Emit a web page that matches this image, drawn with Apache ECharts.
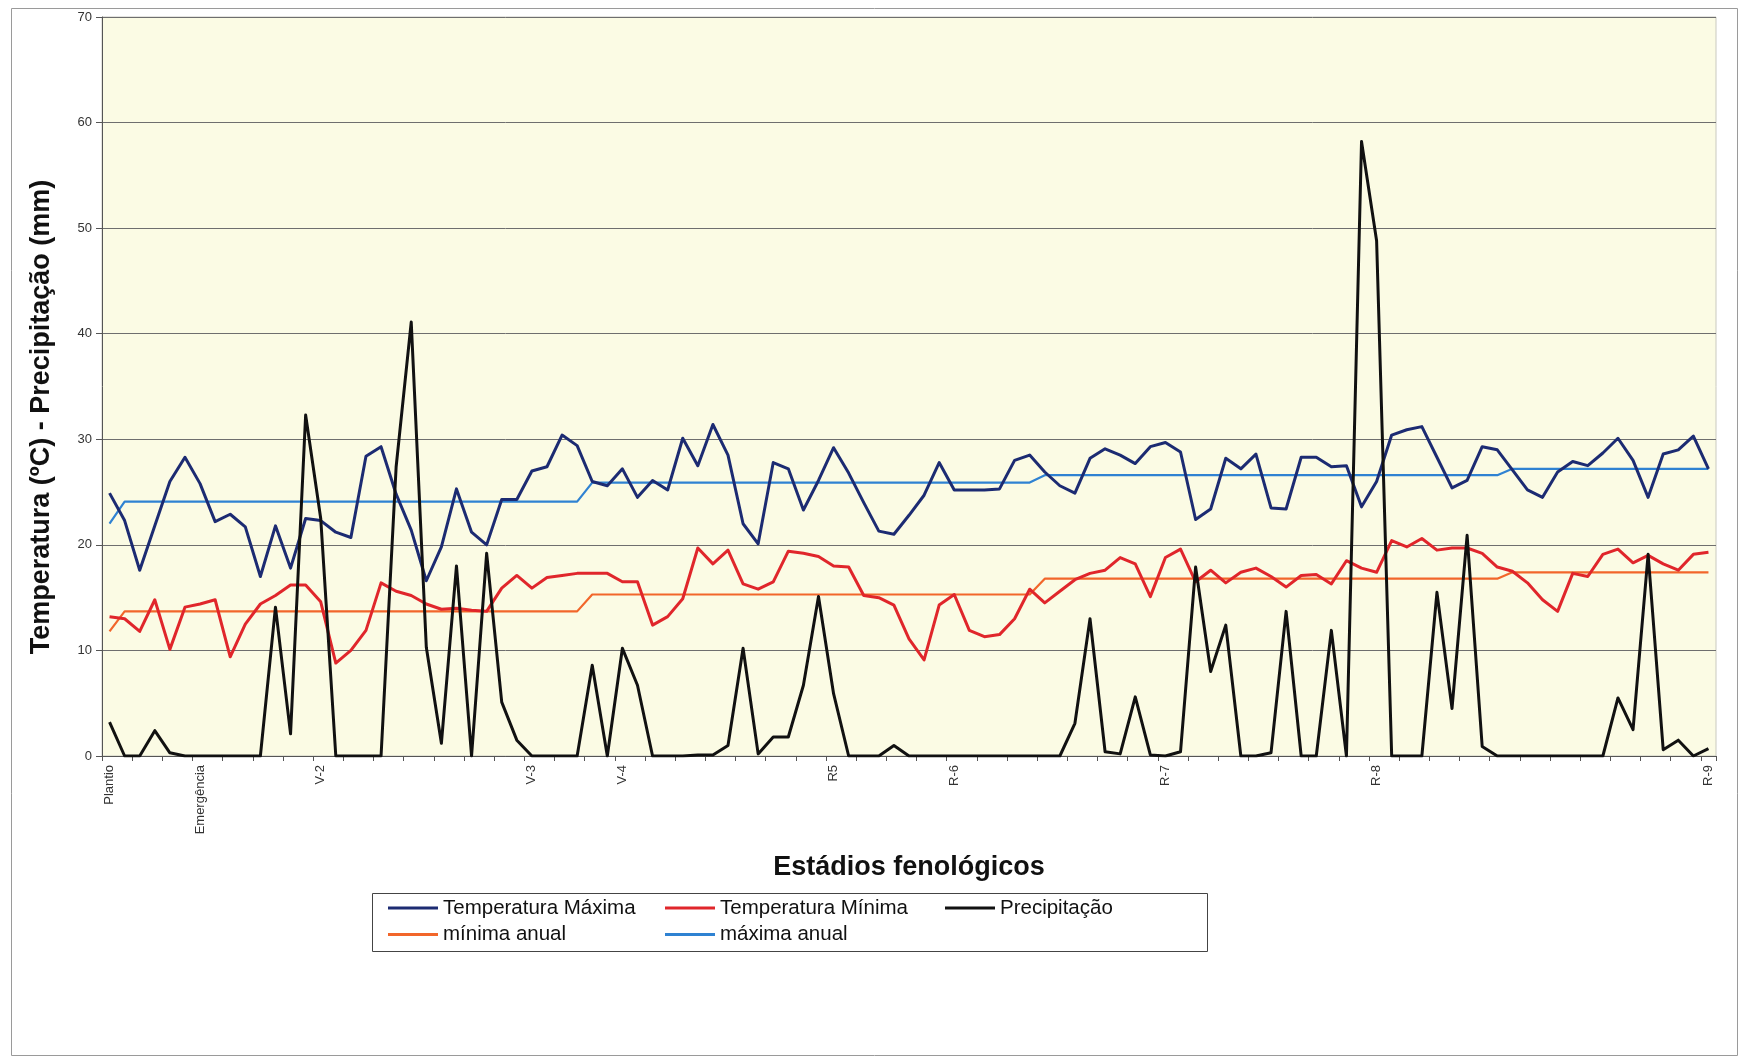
<!DOCTYPE html>
<html>
<head>
<meta charset="utf-8">
<script src="https://cdn.jsdelivr.net/npm/echarts@6.0.0/dist/echarts.min.js"></script>
<style>
html,body{margin:0;padding:0;background:#fff;}
#chart{width:1738px;height:1057px;}
</style>
</head>
<body>
<div id="chart"></div>
<script>
var categories = [
'Plantio','','','','','','Emergência','','','','','','','','V-2','','','','','','',
'','','','','','','','V-3','','','','','','V-4','','','','','','','','','','','','','',
'R5','','','','','','','','R-6','','','','','','','','','','','','','','R-7','','','','','','','','','','','','','','R-8',
'','','','','','','','','','','','','','','','','','','','','','R-9'
];

var tempMax = [24.9,22.3,17.6,21.8,26.0,28.3,25.8,22.2,22.9,21.7,17.0,21.8,17.8,22.5,22.3,21.2,20.7,28.4,29.3,24.8,
21.4,16.6,19.8,25.3,21.2,20.0,24.3,24.3,27.0,27.4,30.4,29.4,26.0,25.6,27.2,24.5,26.1,25.2,30.1,27.5,
31.4,28.5,22.0,20.1,27.8,27.2,23.3,26.1,29.2,26.8,24.0,21.3,21.0,22.8,24.7,27.8,25.2,25.2,25.2,25.3,
28.0,28.5,26.9,25.6,24.9,28.2,29.1,28.5,27.7,29.3,29.7,28.8,22.4,23.4,28.2,27.2,28.6,23.5,23.4,28.3,
28.3,27.4,27.5,23.6,26.0,30.4,30.9,31.2,28.3,25.4,26.1,29.3,29.0,27.1,25.2,24.5,26.9,27.9,27.5,28.7,
30.1,28.0,24.5,28.6,29.0,30.3,27.2];

var tempMin = [13.2,13.0,11.8,14.8,10.1,14.1,14.4,14.8,9.4,12.5,14.4,15.2,16.2,16.2,14.6,8.8,10.0,11.9,16.4,15.6,
15.2,14.4,13.9,14.0,13.8,13.7,15.9,17.1,15.9,16.9,17.1,17.3,17.3,17.3,16.5,16.5,12.4,13.2,14.9,19.7,
18.2,19.5,16.3,15.8,16.5,19.4,19.2,18.9,18.0,17.9,15.2,15.0,14.3,11.1,9.1,14.3,15.3,11.9,11.3,11.5,
13.0,15.8,14.5,15.6,16.7,17.3,17.6,18.8,18.2,15.1,18.8,19.6,16.5,17.6,16.4,17.4,17.8,17.0,16.0,17.1,
17.2,16.3,18.5,17.8,17.4,20.4,19.8,20.6,19.5,19.7,19.7,19.2,17.9,17.5,16.4,14.8,13.7,17.3,17.0,19.1,
19.6,18.3,19.0,18.2,17.6,19.1,19.3];

var precip = [3.2,0,0,2.4,0.3,0,0,0,0,0,0,14.1,2.1,32.3,22.5,0,0,0,0,27.4,
41.1,10.3,1.2,18.0,0,19.2,5.1,1.5,0,0,0,0,8.6,0,10.2,6.7,0,0,0,0.1,
0.1,1.0,10.2,0.2,1.8,1.8,6.7,15.1,5.9,0,0,0,1.0,0,0,0,0,0,0,0,
0,0,0,0,3.1,13.0,0.4,0.2,5.6,0.1,0,0.4,17.9,8.0,12.4,0,0,0.3,13.7,0,
0,11.9,0,58.2,48.8,0,0,0,15.5,4.5,20.9,0.9,0,0,0,0,0,0,0,0,
5.5,2.5,19.1,0.6,1.5,0,0.7];

var minAnual = [11.8,13.7,13.7,13.7,13.7,13.7,13.7,13.7,13.7,13.7,13.7,13.7,13.7,13.7,13.7,13.7,13.7,13.7,13.7,13.7,
13.7,13.7,13.7,13.7,13.7,13.7,13.7,13.7,13.7,13.7,13.7,13.7,15.3,15.3,15.3,15.3,15.3,15.3,15.3,15.3,
15.3,15.3,15.3,15.3,15.3,15.3,15.3,15.3,15.3,15.3,15.3,15.3,15.3,15.3,15.3,15.3,15.3,15.3,15.3,15.3,
15.3,15.3,16.8,16.8,16.8,16.8,16.8,16.8,16.8,16.8,16.8,16.8,16.8,16.8,16.8,16.8,16.8,16.8,16.8,16.8,
16.8,16.8,16.8,16.8,16.8,16.8,16.8,16.8,16.8,16.8,16.8,16.8,16.8,17.4,17.4,17.4,17.4,17.4,17.4,17.4,
17.4,17.4,17.4,17.4,17.4,17.4,17.4];

var maxAnual = [22.0,24.1,24.1,24.1,24.1,24.1,24.1,24.1,24.1,24.1,24.1,24.1,24.1,24.1,24.1,24.1,24.1,24.1,24.1,24.1,
24.1,24.1,24.1,24.1,24.1,24.1,24.1,24.1,24.1,24.1,24.1,24.1,25.9,25.9,25.9,25.9,25.9,25.9,25.9,25.9,
25.9,25.9,25.9,25.9,25.9,25.9,25.9,25.9,25.9,25.9,25.9,25.9,25.9,25.9,25.9,25.9,25.9,25.9,25.9,25.9,
25.9,25.9,26.6,26.6,26.6,26.6,26.6,26.6,26.6,26.6,26.6,26.6,26.6,26.6,26.6,26.6,26.6,26.6,26.6,26.6,
26.6,26.6,26.6,26.6,26.6,26.6,26.6,26.6,26.6,26.6,26.6,26.6,26.6,27.2,27.2,27.2,27.2,27.2,27.2,27.2,
27.2,27.2,27.2,27.2,27.2,27.2,27.2];

var yTicks = [0,10,20,30,40,50,60,70];

var FONT = "'Liberation Sans', Arial, sans-serif";
var chart = echarts.init(document.getElementById('chart'), null, {renderer:'canvas'});

function lineSeries(name, data, color, width, z) {
  return {
    name: name, type: 'line', data: data, symbol: 'none', z: z,
    lineStyle: {color: color, width: width, join: 'round'},
    itemStyle: {color: color},
    emphasis: {disabled: true}
  };
}

var legendCommon = {
  orient: 'vertical', itemWidth: 50, itemHeight: 3, itemGap: 4.6, icon: 'rect',
  textStyle: {fontFamily: FONT, fontSize: 20.5, color: '#111', lineHeight: 22},
  selectedMode: false, padding: 0
};

chart.setOption({
  animation: false,
  backgroundColor: '#ffffff',
  grid: {left: 102, right: 22, top: 17, bottom: 301, show: true,
         backgroundColor: '#fbfbe4', borderColor: '#c9c9c0', borderWidth: 1},
  xAxis: {
    type: 'category', data: categories, boundaryGap: true,
    axisLine: {show: true, lineStyle: {color: '#555', width: 1}},
    axisTick: {show: true, interval: 1, length: 5, lineStyle: {color: '#555'}},
    axisLabel: {interval: 0, rotate: 90, fontSize: 13, fontFamily: FONT, color: '#333', margin: 9},
    name: 'Estádios fenológicos', nameLocation: 'middle', nameGap: 98,
    nameTextStyle: {fontFamily: FONT, fontSize: 27, fontWeight: 'bold', color: '#111'}
  },
  yAxis: {
    type: 'value', min: yTicks[0], max: yTicks[yTicks.length-1], interval: 10,
    axisLine: {show: true, lineStyle: {color: '#555', width: 1}},
    axisTick: {show: true, length: 6, lineStyle: {color: '#555'}},
    axisLabel: {fontSize: 13, fontFamily: FONT, color: '#333', margin: 10},
    splitLine: {show: true, lineStyle: {color: '#6e6e6e', width: 1}}
  },
  legend: [
    Object.assign({left: 388, top: 897, data: ['Temperatura Máxima', 'mínima anual']}, legendCommon),
    Object.assign({left: 665, top: 897, data: ['Temperatura Mínima', 'máxima anual']}, legendCommon),
    Object.assign({left: 945, top: 897, data: ['Precipitação']}, legendCommon)
  ],
  graphic: [
    {type: 'rect', left: 9, top: 6, z: -10, silent: true,
     shape: {width: 1726, height: 1047}, style: {fill: 'none', stroke: '#9a9a9a', lineWidth: 1}},
    {type: 'rect', left: 372, top: 893, z: -5, silent: true,
     shape: {width: 835, height: 58}, style: {fill: '#ffffff', stroke: '#444', lineWidth: 1}},
    {type: 'text', x: 42, y: 417, rotation: Math.PI/2, silent: true,
     style: {text: 'Temperatura (ºC) - Precipitação (mm)', fontFamily: FONT, fontSize: 27, fontWeight: 'bold',
             fill: '#111', textAlign: 'center', textVerticalAlign: 'middle'}}
  ],
  series: [
    lineSeries('mínima anual', minAnual, '#f2662a', 2.2, 2),
    lineSeries('máxima anual', maxAnual, '#2f82d2', 2.2, 2),
    lineSeries('Temperatura Máxima', tempMax, '#1c2b72', 3, 3),
    lineSeries('Temperatura Mínima', tempMin, '#e0262b', 3, 3),
    lineSeries('Precipitação', precip, '#111111', 3, 4)
  ]
});
</script>
</body>
</html>
